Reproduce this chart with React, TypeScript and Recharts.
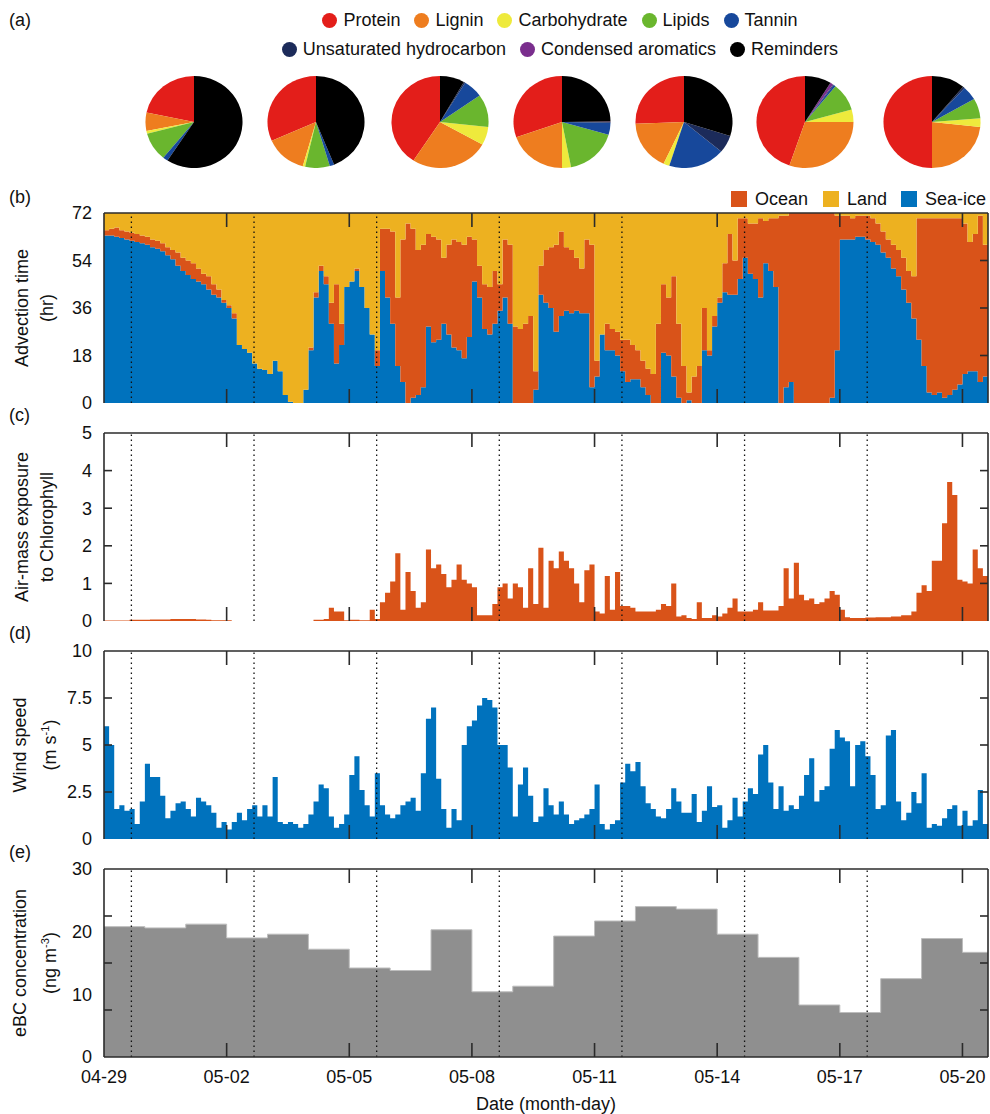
import React from "react";
import { ComposedChart, Area, XAxis, YAxis, ReferenceLine, PieChart, Pie, Cell } from "recharts";

const FONT = '"Liberation Sans", Arial, Helvetica, sans-serif';
const AX = "#2b2b2b";
const FS = 18;

// (a) molecular composition pies
const compNames = ["Protein", "Lignin", "Carbohydrate", "Lipids", "Tannin", "Unsaturated hydrocarbon", "Condensed aromatics", "Reminders"];
const compColors = ["#e31e1a", "#ee7d1f", "#eeea3c", "#6ab62e", "#17489b", "#1c2b5a", "#7a2e8d", "#000000"];
const pie1 = [21.7, 6.4, 1.0, 10.0, 1.7, 0, 0, 59.2];
const pie2 = [31.7, 13.9, 0.8, 8.2, 1.5, 0, 0, 43.9];
const pie3 = [40.8, 26.1, 6.4, 11.5, 6.5, 0.5, 0, 8.2];
const pie4 = [30.4, 19.6, 3.0, 17.5, 4.2, 0.3, 0.2, 24.8];
const pie5 = [25.6, 17.5, 2.0, 0, 18.8, 6.2, 0, 29.9];
const pie6 = [44.8, 30.2, 4.4, 9.8, 0.7, 0.3, 1.0, 8.8];
const pie7 = [50.0, 23.3, 3.0, 7.0, 5.0, 0.6, 0, 11.1];
const pies = [pie1, pie2, pie3, pie4, pie5, pie6, pie7];
const pieCenters = [194, 316, 440, 562, 684, 805, 932];

// time axis (days since 04-29 00:00), 3-hourly series
const dateLabels = ["04-29", "05-02", "05-05", "05-08", "05-11", "05-14", "05-17", "05-20"];
const labelDays = [0, 3, 6, 9, 12, 15, 18, 21];
const tickDays = [3, 6, 9, 12, 15, 18, 21];
const dottedDays = [0.67, 3.67, 6.67, 9.67, 12.67, 15.67, 18.67];
const X_DOMAIN: [number, number] = [0, 21.625];
const STEP = 1 / 8;

// (b) advection time (hr): top of sea-ice and top of ocean (cumulative), land fills to 72
const seaIce = [
  63.5, 63.5, 63, 62.5, 62, 61.5, 61, 60.5, 60, 59,
  58.5, 57.5, 56, 54.5, 52, 50, 48.5, 47, 46, 45,
  43, 41, 40, 38, 36, 32, 22, 20.5, 19, 15,
  13, 12.5, 11, 16, 12, 3, 0.5, 0, 0, 5,
  20, 40, 50, 45, 30, 15, 22, 44, 46, 50,
  44, 36, 26, 14, 50, 40, 30, 14, 8, 0,
  2, 3, 6, 29, 23, 24, 30, 26, 21, 20,
  17, 25, 46, 40, 28, 26, 30, 35, 40, 30,
  0, 0, 0, 0, 5, 41, 38, 36, 27, 33,
  35, 34, 35, 34, 34, 6, 10, 26, 20, 20,
  18, 12, 8, 9, 9, 6, 3, 0, 0, 19,
  18, 10, 2, 0, 1, 0, 0, 20, 18, 29,
  38, 42, 41, 41, 47, 55, 49, 47, 40, 53,
  50, 44, 0, 6, 8, 0, 0, 0, 0, 0,
  0, 0, 2, 20, 62, 62, 62, 63, 63, 62,
  61, 60, 57, 55, 51, 48, 43, 38, 32, 24,
  14, 4, 3, 4, 2, 3, 5, 7, 11, 12,
  12, 8, 10, 2,
];
const oceanTop = [
  65.5, 66, 66.5, 65.5, 65, 64.5, 64, 63.5, 63, 62,
  61.5, 60.5, 59, 58, 57, 55, 54, 53, 51, 49,
  48, 45, 43, 39, 37, 34, 22, 20.5, 19, 15,
  13, 12.5, 11, 16, 12, 3, 0.5, 0, 0, 5,
  21, 42, 52, 48, 38, 45, 30, 44, 46, 51,
  44, 36, 26, 20, 66, 66, 65, 40, 62, 68,
  66, 58, 60, 64, 63, 62, 55, 60, 62, 61,
  60, 63, 62, 52, 45, 44, 50, 45, 62, 60,
  29, 28, 30, 33, 12, 52, 58, 59, 60, 65,
  59, 58, 55, 51, 62, 60, 16, 26, 30, 28,
  27, 24, 24, 22, 20, 16, 13, 11, 30, 45,
  40, 48, 30, 14, 4, 10, 14, 36, 20, 33,
  40, 53, 64, 54, 70, 70, 68, 68, 70, 69,
  70, 70, 71, 71, 72, 72, 72, 72, 72, 72,
  72, 72, 72, 71, 71, 71, 70, 71, 71, 71,
  70, 68, 65, 62, 60, 58, 55, 50, 48, 70,
  70, 70, 70, 70, 70, 70, 70, 70, 68, 61,
  64, 71, 60, 70,
];

// (c) air-mass exposure to chlorophyll
const chl = [
  0.01, 0.01, 0.01, 0.01, 0.01, 0.03, 0.03, 0.03, 0.03, 0.04,
  0.04, 0.04, 0.04, 0.05, 0.05, 0.05, 0.05, 0.05, 0.04, 0.04,
  0.03, 0.02, 0.02, 0.02, 0.02, 0, 0, 0, 0, 0,
  0, 0, 0, 0, 0, 0, 0, 0, 0, 0,
  0, 0.03, 0.03, 0.05, 0.35, 0.25, 0.25, 0.02, 0.03, 0.03,
  0.02, 0.02, 0.3, 0.05, 0.5, 0.75, 1.05, 1.8, 0.3, 1.3,
  0.8, 0.35, 0.5, 1.9, 1.4, 1.5, 1.25, 0.9, 1.1, 1.5,
  1.1, 1.0, 0.9, 0.15, 0.15, 0.15, 0.45, 0.9, 1.0, 0.6,
  1.0, 0.9, 0.35, 1.4, 0.45, 1.95, 0.35, 1.6, 1.4, 1.85,
  1.6, 1.4, 1.0, 0.5, 1.35, 1.5, 0.25, 0.2, 1.2, 0.3,
  1.3, 0.4, 0.4, 0.35, 0.25, 0.25, 0.25, 0.25, 0.3, 0.45,
  0.4, 1.0, 0.12, 0.15, 0.08, 0.05, 0.5, 0.08, 0.08, 0.15,
  0.12, 0.2, 0.35, 0.6, 0.25, 0.25, 0.25, 0.3, 0.5, 0.28,
  0.28, 0.28, 0.4, 1.4, 0.6, 1.55, 0.7, 0.55, 0.6, 0.45,
  0.5, 0.6, 0.8, 0.7, 0.3, 0.1, 0.08, 0.08, 0.08, 0.09,
  0.09, 0.1, 0.1, 0.1, 0.12, 0.12, 0.15, 0.15, 0.25, 0.75,
  0.95, 0.8, 1.6, 1.6, 2.6, 3.7, 3.35, 1.1, 1.05, 1.0,
  1.9, 1.4, 1.2, 0.9,
];

// (d) wind speed (m/s)
const wind = [
  6.0, 5.0, 1.6, 1.8, 1.5, 1.6, 0.8, 2.0, 4.0, 3.3,
  3.3, 2.3, 1.1, 1.5, 1.9, 2.0, 1.6, 1.2, 2.2, 2.0,
  1.8, 1.4, 0.6, 0.9, 0.5, 0.9, 1.4, 1.0, 1.6, 1.8,
  1.2, 1.8, 1.2, 3.3, 0.9, 0.8, 0.9, 0.8, 0.6, 0.8,
  1.3, 2.0, 2.9, 2.7, 1.2, 0.6, 0.8, 1.3, 3.4, 4.4,
  2.6, 1.8, 1.2, 3.5, 1.8, 1.3, 1.1, 1.3, 1.8, 2.0,
  2.2, 1.5, 3.5, 6.4, 7.0, 3.2, 1.6, 0.6, 1.6, 1.0,
  5.0, 6.0, 6.3, 7.1, 7.5, 7.4, 7.0, 5.0, 5.0, 3.8,
  1.2, 2.9, 3.8, 2.3, 0.9, 1.2, 2.7, 1.8, 1.3, 2.0,
  1.3, 0.8, 1.0, 1.1, 1.3, 1.6, 2.9, 0.8, 0.5, 0.8,
  1.0, 3.0, 4.0, 3.6, 4.1, 2.8, 1.9, 1.6, 1.2, 1.1,
  1.6, 2.7, 2.0, 1.4, 1.4, 2.4, 0.9, 1.5, 2.8, 1.7,
  1.8, 0.6, 1.0, 2.2, 1.2, 2.0, 2.7, 2.4, 4.5, 5.0,
  3.0, 1.6, 2.8, 1.5, 1.8, 1.6, 2.3, 3.4, 4.3, 2.0,
  2.6, 2.8, 4.8, 5.8, 5.4, 5.2, 2.8, 5.0, 5.2, 4.4,
  3.4, 1.6, 1.8, 5.5, 5.8, 2.0, 1.0, 1.4, 2.5, 1.9,
  3.5, 0.6, 0.8, 0.7, 1.1, 1.6, 1.8, 0.7, 1.5, 0.7,
  1.0, 2.6, 0.8, 1.8,
];

// (e) daily eBC (ng m-3)
const ebc = [20.8, 20.6, 21.2, 19.0, 19.6, 17.2, 14.2, 13.8, 20.3, 10.4, 11.3, 19.3, 21.7, 24.0, 23.6, 19.6, 15.9, 8.3, 7.1, 12.5, 18.9, 16.7];

const series = seaIce.map((s, i) => ({
  t: i * STEP,
  seaIce: s,
  ocean: oceanTop[i] - s,
  land: 72 - oceanTop[i],
  chl: chl[i],
  wind: wind[i],
}));
const ebcData = [...ebc.map((v, i) => ({ t: i, v })), { t: X_DOMAIN[1], v: ebc[ebc.length - 1] }];

const srcColors = { ocean: "#d95319", land: "#edb120", seaIce: "#0072bd" };

// plot frame geometry (pixels)
const PAD = 14;
const PLOT_L = 104;
const PLOT_R = 988;
const XT = 14; // inward x tick length
const YT = 8; // inward y tick length
const lineStyle = { stroke: AX, strokeWidth: 1.6 };

// inward tick marks drawn as the two ends of a reference line
const xTickShape = (p: any) => {
  const top = Math.min(p.y1, p.y2);
  const bottom = Math.max(p.y1, p.y2);
  return (
    <g>
      <line x1={p.x1} x2={p.x1} y1={top} y2={top + XT} stroke={AX} strokeWidth={1.6} />
      <line x1={p.x1} x2={p.x1} y1={bottom} y2={bottom - XT} stroke={AX} strokeWidth={1.6} />
    </g>
  );
};
const yTickShape = (withLeft: boolean) => (p: any) => {
  const l = Math.min(p.x1, p.x2);
  const r = Math.max(p.x1, p.x2);
  return (
    <g>
      {withLeft && <line x1={l} x2={l + YT} y1={p.y1} y2={p.y1} stroke={AX} strokeWidth={1.6} />}
      <line x1={r} x2={r - YT} y1={p.y1} y2={p.y1} stroke={AX} strokeWidth={1.6} />
    </g>
  );
};

// date labels under panel (e)
const makeXLabel = (h: number) => (p: any) => (
  <text x={p.x} y={PAD + h + 12} dy="0.75em" textAnchor="middle" fontSize={FS} fontFamily={FONT} fill="#111">
    {dateLabels[labelDays.indexOf(p.payload.value)]}
  </text>
);

const frame = (h: number, dom: [number, number], labels: number[], inner: number[], innerLeft: boolean, dateAxis: boolean) => [
  ...dottedDays.map((d) => (
    <ReferenceLine key={"d" + d} x={d} stroke="#111" strokeWidth={1.3} strokeDasharray="1.5 3.5" ifOverflow="visible" />
  )),
  ...tickDays.map((d) => <ReferenceLine key={"tx" + d} x={d} stroke={AX} ifOverflow="visible" shape={xTickShape} />),
  ...inner.map((v) => <ReferenceLine key={"ty" + v} y={v} stroke={AX} ifOverflow="visible" shape={yTickShape(innerLeft)} />),
  <ReferenceLine key="ftop" y={dom[1]} stroke={AX} strokeWidth={1.6} ifOverflow="visible" />,
  <ReferenceLine key="fright" x={X_DOMAIN[1]} stroke={AX} strokeWidth={1.6} ifOverflow="visible" />,
  <XAxis key="x" dataKey="t" type="number" domain={X_DOMAIN} allowDataOverflow interval={0}
    ticks={dateAxis ? labelDays : tickDays} mirror={!dateAxis} height={dateAxis ? 40 : 0}
    tickLine={false} axisLine={lineStyle} tick={dateAxis ? makeXLabel(h) : false} />,
  <YAxis key="y" type="number" domain={dom} allowDataOverflow interval={0} ticks={labels} width={PLOT_L}
    tickLine={false} tickSize={0} tickMargin={12} axisLine={lineStyle}
    tick={{ fill: "#111", fontSize: FS, fontFamily: FONT }} />,
];

const abs = (left: number, top: number): React.CSSProperties => ({ position: "absolute", left, top });

const PanelTag = ({ text, y }: { text: string; y: number }) => (
  <div style={{ ...abs(9, y), transform: "translateY(-50%)", fontSize: FS }}>{text}</div>
);

const YTitle = ({ cy, lines }: { cy: number; lines: React.ReactNode[] }) => (
  <div
    style={{
      ...abs(35, cy),
      transform: "translate(-50%, -50%) rotate(-90deg)",
      textAlign: "center",
      lineHeight: "25px",
      fontSize: FS,
      whiteSpace: "nowrap",
    }}
  >
    {lines.map((l, i) => (
      <div key={i}>{l}</div>
    ))}
  </div>
);

const M = { top: PAD, right: 990 - PLOT_R, bottom: PAD, left: 0 };
const HB = 190;
const H = 188;

export default function App() {
  return (
    <div style={{ position: "absolute", left: 0, top: 0, width: 990, height: 1114, background: "#fff", fontFamily: FONT, color: "#111" }}>
      {/* (a) legend */}
      <PanelTag text="(a)" y={20} />
      {[compNames.slice(0, 5), compNames.slice(5)].map((row, r) => (
        <div key={r} style={{ ...abs(0, r === 0 ? 9 : 38), width: 1120, display: "flex", justifyContent: "center", fontSize: FS, lineHeight: "22px" }}>
          {row.map((n) => (
            <div key={n} style={{ display: "flex", alignItems: "center", margin: "0 7px" }}>
              <span style={{ width: 15, height: 15, borderRadius: "50%", background: compColors[compNames.indexOf(n)], marginRight: 6, display: "inline-block" }} />
              {n}
            </div>
          ))}
        </div>
      ))}
      {pies.map((p, k) => (
        <div key={k} style={{ ...abs(pieCenters[k] - 50, 72), width: 100, height: 100, transform: "scaleX(1.055)" }}>
          <PieChart width={100} height={100} margin={{ top: 0, right: 0, bottom: 0, left: 0 }}>
            <Pie
              data={p.map((v, j) => ({ name: compNames[j], value: v }))}
              dataKey="value"
              cx={50}
              cy={50}
              outerRadius={46}
              startAngle={90}
              endAngle={450}
              stroke="none"
              isAnimationActive={false}
            >
              {p.map((_, j) => (
                <Cell key={j} fill={compColors[j]} />
              ))}
            </Pie>
          </PieChart>
        </div>
      ))}

      {/* (b) advection time */}
      <PanelTag text="(b)" y={197} />
      {(["ocean", "land", "seaIce"] as const).map((k, i) => (
        <div key={k} style={{ ...abs([731, 823, 901][i], 188), display: "flex", alignItems: "center", fontSize: FS, lineHeight: "22px" }}>
          <span style={{ width: 16, height: 16, background: srcColors[k], marginRight: 8, display: "inline-block" }} />
          {["Ocean", "Land", "Sea-ice"][i]}
        </div>
      ))}
      <YTitle cy={308} lines={["Advection time", "(hr)"]} />
      <div style={abs(0, 213 - PAD)}>
        <ComposedChart width={990} height={HB + 2 * PAD} data={series} margin={M}>
          <Area type="stepAfter" dataKey="seaIce" stackId="s" stroke="none" fill={srcColors.seaIce} fillOpacity={1} isAnimationActive={false} dot={false} activeDot={false} />
          <Area type="stepAfter" dataKey="ocean" stackId="s" stroke="none" fill={srcColors.ocean} fillOpacity={1} isAnimationActive={false} dot={false} activeDot={false} />
          <Area type="stepAfter" dataKey="land" stackId="s" stroke="none" fill={srcColors.land} fillOpacity={1} isAnimationActive={false} dot={false} activeDot={false} />
          {frame(HB, [0, 72], [0, 18, 36, 54, 72], [18, 36, 54], false, false)}
        </ComposedChart>
      </div>

      {/* (c) chlorophyll exposure */}
      <PanelTag text="(c)" y={415} />
      <YTitle cy={527} lines={["Air-mass exposure", "to Chlorophyll"]} />
      <div style={abs(0, 433 - PAD)}>
        <ComposedChart width={990} height={H + 2 * PAD} data={series} margin={M}>
          <Area type="stepAfter" dataKey="chl" stroke="none" fill="#d95319" fillOpacity={1} isAnimationActive={false} dot={false} activeDot={false} />
          {frame(H, [0, 5], [0, 1, 2, 3, 4, 5], [1, 2, 3, 4], true, false)}
        </ComposedChart>
      </div>

      {/* (d) wind speed */}
      <PanelTag text="(d)" y={633} />
      <YTitle cy={745} lines={["Wind speed", <span key="u">(m s<sup style={{ fontSize: 11 }}>-1</sup>)</span>]} />
      <div style={abs(0, 651 - PAD)}>
        <ComposedChart width={990} height={H + 2 * PAD} data={series} margin={M}>
          <Area type="stepAfter" dataKey="wind" stroke="none" fill="#0072bd" fillOpacity={1} isAnimationActive={false} dot={false} activeDot={false} />
          {frame(H, [0, 10], [0, 2.5, 5, 7.5, 10], [2.5, 5, 7.5], true, false)}
        </ComposedChart>
      </div>

      {/* (e) eBC */}
      <PanelTag text="(e)" y={852} />
      <YTitle cy={963} lines={["eBC concentration", <span key="u">(ng m<sup style={{ fontSize: 11 }}>-3</sup>)</span>]} />
      <div style={abs(0, 869 - PAD)}>
        <ComposedChart width={990} height={H + PAD + 2 + 40} data={ebcData} margin={{ ...M, bottom: 2 }}>
          <Area type="stepAfter" dataKey="v" stroke="#bdbdbd" strokeWidth={1} fill="#8f8f8f" fillOpacity={1} isAnimationActive={false} dot={false} activeDot={false} />
          {frame(H, [0, 30], [0, 10, 20, 30], [7.5, 15, 22.5], true, true)}
        </ComposedChart>
      </div>
      <div style={{ ...abs(546, 1104), transform: "translate(-50%, -50%)", fontSize: FS }}>Date (month-day)</div>
    </div>
  );
}
